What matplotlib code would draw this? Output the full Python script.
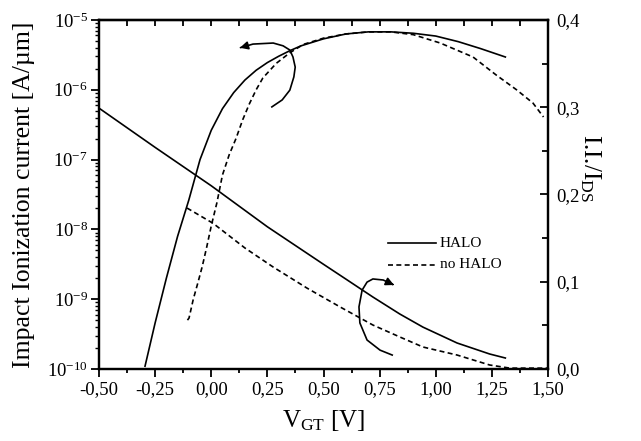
import matplotlib
matplotlib.use("Agg")
import matplotlib.pyplot as plt
import numpy as np
from matplotlib.ticker import LogLocator, FixedLocator, NullFormatter, FixedFormatter

plt.rcParams['font.family'] = ['Liberation Serif', 'DejaVu Serif']
plt.rcParams['mathtext.fontset'] = 'custom'
plt.rcParams['mathtext.rm'] = 'Liberation Serif'
plt.rcParams['mathtext.it'] = 'Liberation Serif:italic'
plt.rcParams['axes.unicode_minus'] = False

# ---- data ----
# Impact ionization current, HALO (left log axis)
halo_ii_v = [-0.295, -0.25, -0.2, -0.15, -0.1, -0.05, 0.0, 0.05, 0.1, 0.15, 0.2, 0.25,
             0.3, 0.35, 0.4, 0.5, 0.6, 0.7, 0.8, 0.9, 1.0, 1.1, 1.2, 1.31]
halo_ii_log = [-9.96, -9.34, -8.70, -8.10, -7.58, -7.00, -6.58, -6.27, -6.04, -5.86, -5.72, -5.61,
               -5.52, -5.44, -5.37, -5.27, -5.20, -5.17, -5.17, -5.19, -5.23, -5.31, -5.41, -5.53]
# Impact ionization current, no HALO (left log axis)
nohalo_ii_v = [-0.106, -0.099, -0.08, -0.06, -0.04, -0.02, 0.0, 0.025, 0.05, 0.08,
               0.11, 0.14, 0.17, 0.2, 0.23, 0.29, 0.35, 0.41, 0.5, 0.6,
               0.7, 0.8, 0.9, 1.02, 1.166, 1.27, 1.36, 1.433, 1.48]
nohalo_ii_log = [-9.30, -9.27, -9.00, -8.77, -8.53, -8.25, -7.95, -7.62, -7.22, -6.93,
                 -6.70, -6.43, -6.20, -6.00, -5.83, -5.62, -5.47, -5.35, -5.26, -5.20,
                 -5.17, -5.17, -5.21, -5.33, -5.53, -5.79, -6.00, -6.19, -6.39]
# I.I./I_DS, HALO (right axis)
halo_r_v = [-0.5, -0.25, 0.0, 0.25, 0.5, 0.6, 0.72, 0.84, 0.943, 1.095, 1.24, 1.31]
halo_r = [0.299, 0.254, 0.210, 0.163, 0.120, 0.103, 0.0825, 0.0630, 0.048, 0.0298, 0.0172, 0.0126]
# I.I./I_DS, no HALO (right axis)
nohalo_r_v = [-0.108, 0.008, 0.15, 0.275, 0.426, 0.574, 0.72, 0.84, 0.943, 1.095,
              1.24, 1.33, 1.40, 1.50]
nohalo_r = [0.1845, 0.167, 0.1387, 0.117, 0.0928, 0.0711, 0.0504, 0.0367, 0.0252, 0.016,
            0.0046, 0.001, 0.001, 0.001]

x_ticks = [-0.5, -0.25, 0.0, 0.25, 0.5, 0.75, 1.0, 1.25, 1.5]
x_ticklabels = ['-0,50', '-0,25', '0,00', '0,25', '0,50', '0,75', '1,00', '1,25', '1,50']
y_ticks = [1e-10, 1e-9, 1e-8, 1e-7, 1e-6, 1e-5]
y_ticklabels = [r'$\mathrm{10^{-10}}$', r'$\mathrm{10^{-9}}$', r'$\mathrm{10^{-8}}$',
                r'$\mathrm{10^{-7}}$', r'$\mathrm{10^{-6}}$', r'$\mathrm{10^{-5}}$']
r_ticks = [0.0, 0.1, 0.2, 0.3, 0.4]
r_ticklabels = ['0,0', '0,1', '0,2', '0,3', '0,4']

# annotation arrow paths (axes fraction)
arrow1_x = [0.385, 0.408, 0.425, 0.434, 0.437, 0.432, 0.425, 0.410, 0.388, 0.343, 0.321]
arrow1_y = [0.751, 0.771, 0.799, 0.837, 0.865, 0.894, 0.914, 0.926, 0.934, 0.931, 0.923]
arrow2_x = [0.653, 0.626, 0.597, 0.581, 0.579, 0.586, 0.597, 0.610, 0.633, 0.648]
arrow2_y = [0.040, 0.054, 0.083, 0.132, 0.178, 0.226, 0.249, 0.258, 0.255, 0.246]

fig = plt.figure(figsize=(6.41, 4.41), dpi=100)
ax = fig.add_axes([99/641, 72/441, 449/641, 349/441])
axr = ax.twinx()

lw = 1.2
dash = (3.0, 2.0)
ax.plot(halo_ii_v, 10**np.array(halo_ii_log), color='black', lw=lw)
ax.plot(nohalo_ii_v, 10**np.array(nohalo_ii_log), color='black', lw=lw, dashes=dash)
axr.plot(halo_r_v, halo_r, color='black', lw=lw)
axr.plot(nohalo_r_v, nohalo_r, color='black', lw=lw, dashes=dash)

ax.set_yscale('log')
ax.set_xlim(-0.5, 1.5)
ax.set_ylim(1e-10, 1e-5)
axr.set_ylim(0, 0.4)

ax.xaxis.set_major_locator(FixedLocator(x_ticks))
ax.xaxis.set_major_formatter(FixedFormatter(x_ticklabels))
ax.xaxis.set_minor_locator(FixedLocator(np.arange(-0.375, 1.5, 0.25)))
ax.yaxis.set_major_locator(FixedLocator(y_ticks))
ax.yaxis.set_major_formatter(FixedFormatter(y_ticklabels))
ax.yaxis.set_minor_locator(LogLocator(base=10, subs=np.arange(2, 10)))
ax.yaxis.set_minor_formatter(NullFormatter())
axr.yaxis.set_major_locator(FixedLocator(r_ticks))
axr.yaxis.set_major_formatter(FixedFormatter(r_ticklabels))
axr.yaxis.set_minor_locator(FixedLocator([0.05, 0.15, 0.25, 0.35]))

tfs = 13.5
ax.tick_params(axis='x', which='major', direction='out', length=6, width=1.3, labelsize=tfs, pad=3)
ax.tick_params(axis='x', which='minor', direction='out', length=3, width=1.3)
ax.tick_params(axis='y', which='major', direction='out', length=6, width=1.3, labelsize=tfs, pad=2)
ax.tick_params(axis='y', which='minor', direction='out', length=3, width=1.0)
axr.tick_params(axis='y', which='major', direction='in', length=6, width=1.3, labelsize=tfs, pad=6)
axr.tick_params(axis='y', which='minor', direction='in', length=4, width=1.3)

top = ax.secondary_xaxis('top')
top.xaxis.set_major_locator(FixedLocator(np.arange(-0.375, 1.5, 0.125)))
top.tick_params(axis='x', which='major', direction='in', length=4, width=1.3, labeltop=False)
top.xaxis.set_minor_locator(FixedLocator([]))

for a in (ax, axr):
    for s in a.spines.values():
        s.set_linewidth(1.6)
top.spines['top'].set_linewidth(1.6)

ax.set_xlabel(r'V$_{\mathrm{GT}}$ [V]', fontsize=18)
ax.xaxis.set_label_coords(0.5, -0.112)
ax.set_ylabel('Impact Ionization current [A/µm]', fontsize=18.5)
ax.yaxis.set_label_coords(-0.142, 0.5)
axr.set_ylabel(r'I.I./I$_{\mathrm{DS}}$', fontsize=18, rotation=-90)
axr.yaxis.set_label_coords(1.122, 0.576)

# legend drawn manually
ax.plot([0.644, 0.750], [0.361, 0.361], transform=ax.transAxes, color='black', lw=lw)
ax.plot([0.644, 0.750], [0.298, 0.298], transform=ax.transAxes, color='black', lw=lw, dashes=dash)
ax.text(0.759, 0.361, 'HALO', transform=ax.transAxes, fontsize=11, va='center', ha='left')
ax.text(0.759, 0.298, 'no HALO', transform=ax.transAxes, fontsize=11, va='center', ha='left')

# curl arrows
for xs, ys in ((arrow1_x, arrow1_y), (arrow2_x, arrow2_y)):
    ax.plot(xs, ys, transform=ax.transAxes, color='black', lw=1.2)
    ax.annotate('', xy=(xs[-1] + (xs[-1]-xs[-2])*0.6, ys[-1] + (ys[-1]-ys[-2])*0.6),
                xytext=(xs[-1], ys[-1]), xycoords='axes fraction', textcoords='axes fraction',
                arrowprops=dict(arrowstyle='-|>', color='black', lw=1.2, mutation_scale=12))

fig.savefig('out.png', dpi=100)
